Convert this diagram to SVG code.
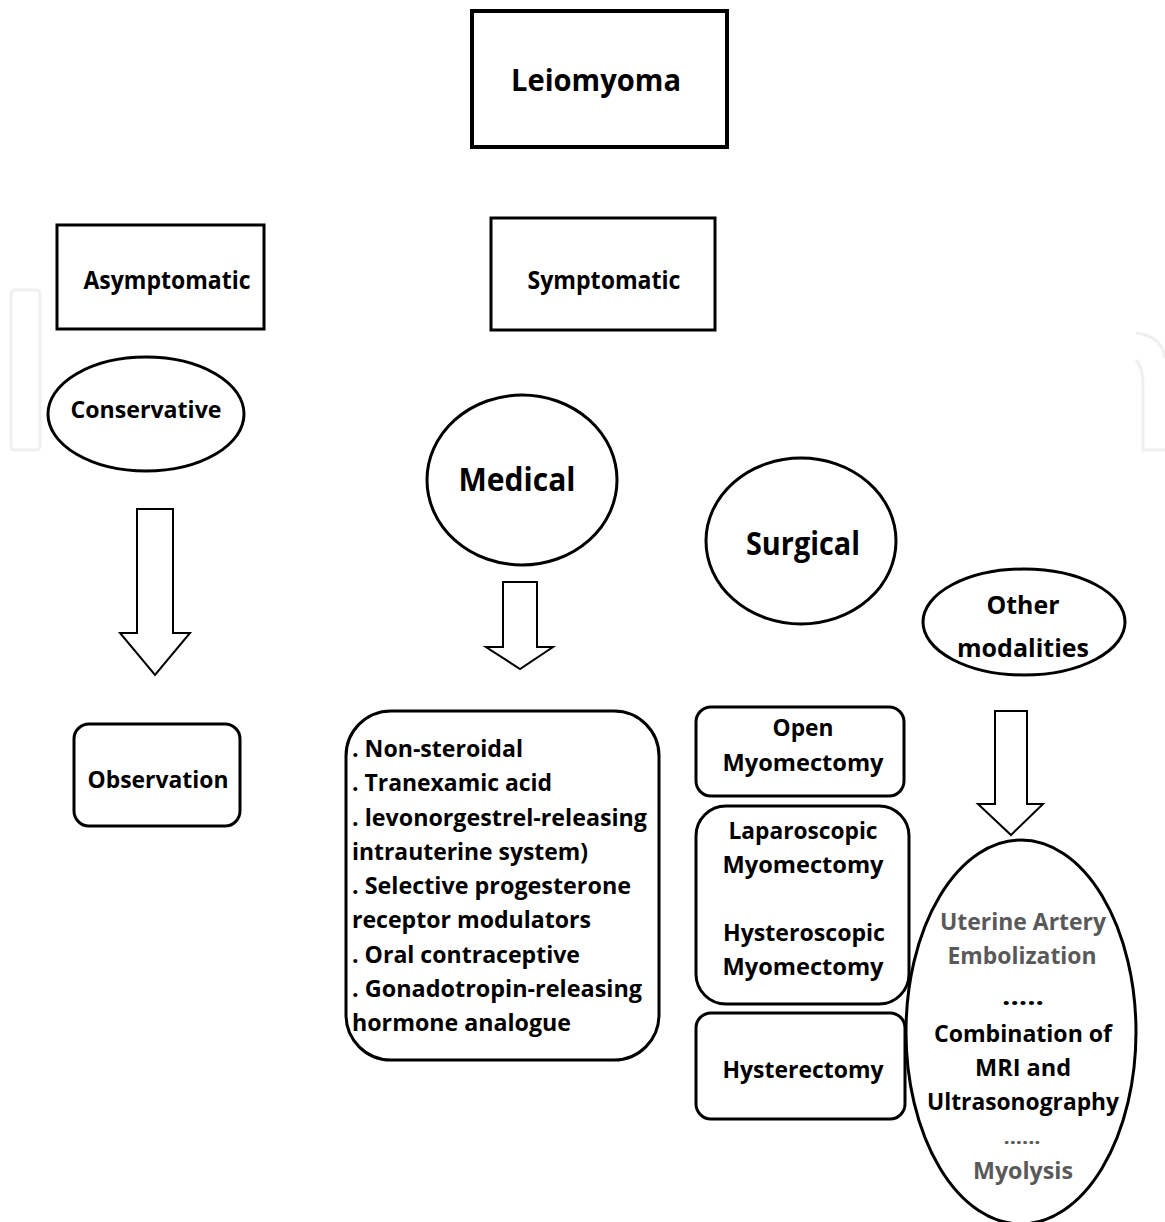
<svg xmlns="http://www.w3.org/2000/svg" width="1165" height="1222" viewBox="0 0 1165 1222">
<style>
.b{fill:#fff;stroke:#000;stroke-width:3}
.a{fill:#fff;stroke:#000;stroke-width:2;stroke-linejoin:miter}
text{font-family:"Open Sans","Liberation Sans",sans-serif;font-weight:bold;fill:#000}
.c{text-anchor:middle}
.g{fill:#595959}
.w{fill:none;stroke:#eef0f0;stroke-width:3}
</style>
<rect width="1165" height="1222" fill="#fff"/>
<g id="watermark">
<rect class="w" x="11" y="290" width="29" height="160" rx="4"/>
<path class="w" d="M1136,333 Q1162,336 1165,358 M1136,360 Q1143,368 1143,385 L1143,450 L1165,450"/>
</g>
<g id="leiomyoma">
<rect x="472" y="11" width="255" height="136" fill="#fff" stroke="#000" stroke-width="4"/>
<text class="c" x="596" y="91" font-size="31" textLength="170" lengthAdjust="spacingAndGlyphs">Leiomyoma</text>
</g>
<g id="asymptomatic">
<rect class="b" x="57" y="225" width="207" height="104"/>
<text class="c" x="167" y="289" font-size="25" textLength="167" lengthAdjust="spacingAndGlyphs">Asymptomatic</text>
</g>
<g id="symptomatic">
<rect class="b" x="491" y="218" width="224" height="112"/>
<text class="c" x="604" y="289" font-size="25" textLength="153" lengthAdjust="spacingAndGlyphs">Symptomatic</text>
</g>
<g id="conservative">
<ellipse class="b" cx="146" cy="414" rx="98" ry="57"/>
<text class="c" x="146" y="418" font-size="24" textLength="151" lengthAdjust="spacingAndGlyphs">Conservative</text>
</g>
<g id="medical">
<ellipse class="b" cx="522" cy="480" rx="95" ry="85"/>
<text class="c" x="517" y="491" font-size="33" textLength="117" lengthAdjust="spacingAndGlyphs">Medical</text>
</g>
<g id="surgical">
<ellipse class="b" cx="801" cy="541" rx="95" ry="83"/>
<text class="c" x="803" y="555" font-size="32" textLength="114" lengthAdjust="spacingAndGlyphs">Surgical</text>
</g>
<g id="other">
<ellipse class="b" cx="1024" cy="622" rx="101" ry="53"/>
<text class="c" x="1023" y="614" font-size="25" textLength="73" lengthAdjust="spacingAndGlyphs">Other</text>
<text class="c" x="1023" y="657" font-size="25" textLength="132" lengthAdjust="spacingAndGlyphs">modalities</text>
</g>
<g id="connectors">
<path class="a" d="M137,509 L173,509 L173,633 L190,633 L155,675 L120,633 L137,633 Z"/>
<path class="a" d="M503,582 L537,582 L537,647 L553,647 L520,669 L486,647 L503,647 Z"/>
<path class="a" d="M995,711 L1027,711 L1027,804 L1043,804 L1011,835 L978,804 L995,804 Z"/>
</g>
<g id="observation">
<rect class="b" x="74" y="724" width="166" height="102" rx="15"/>
<text class="c" x="158" y="788" font-size="23" textLength="141" lengthAdjust="spacingAndGlyphs">Observation</text>
</g>
<g id="medical-list">
<rect class="b" x="346" y="711" width="313" height="349" rx="45"/>
<text x="352" y="757" font-size="24" textLength="171" lengthAdjust="spacingAndGlyphs">. Non-steroidal</text>
<text x="352" y="791" font-size="24" textLength="200" lengthAdjust="spacingAndGlyphs">. Tranexamic acid</text>
<text x="352" y="826" font-size="24" textLength="295" lengthAdjust="spacingAndGlyphs">. levonorgestrel-releasing</text>
<text x="352" y="860" font-size="24" textLength="236" lengthAdjust="spacingAndGlyphs">intrauterine system)</text>
<text x="352" y="894" font-size="24" textLength="279" lengthAdjust="spacingAndGlyphs">. Selective progesterone</text>
<text x="352" y="928" font-size="24" textLength="239" lengthAdjust="spacingAndGlyphs">receptor modulators</text>
<text x="352" y="963" font-size="24" textLength="228" lengthAdjust="spacingAndGlyphs">. Oral contraceptive</text>
<text x="352" y="997" font-size="24" textLength="290" lengthAdjust="spacingAndGlyphs">. Gonadotropin-releasing</text>
<text x="352" y="1031" font-size="24" textLength="219" lengthAdjust="spacingAndGlyphs">hormone analogue</text>
</g>
<g id="open-myomectomy">
<rect class="b" x="696" y="707" width="208" height="89" rx="15"/>
<text class="c" x="803" y="736" font-size="24" textLength="61" lengthAdjust="spacingAndGlyphs">Open</text>
<text class="c" x="803" y="771" font-size="24" textLength="161" lengthAdjust="spacingAndGlyphs">Myomectomy</text>
</g>
<g id="lap-hys-myomectomy">
<rect class="b" x="696" y="806" width="213" height="198" rx="30"/>
<text class="c" x="803" y="839" font-size="24" textLength="149" lengthAdjust="spacingAndGlyphs">Laparoscopic</text>
<text class="c" x="803" y="873" font-size="24" textLength="161" lengthAdjust="spacingAndGlyphs">Myomectomy</text>
<text class="c" x="804" y="941" font-size="24" textLength="162" lengthAdjust="spacingAndGlyphs">Hysteroscopic</text>
<text class="c" x="803" y="975" font-size="24" textLength="161" lengthAdjust="spacingAndGlyphs">Myomectomy</text>
</g>
<g id="hysterectomy">
<rect class="b" x="696" y="1013" width="209" height="106" rx="15"/>
<text class="c" x="803" y="1078" font-size="24" textLength="161" lengthAdjust="spacingAndGlyphs">Hysterectomy</text>
</g>
<g id="other-list">
<ellipse class="b" cx="1021" cy="1032" rx="115" ry="192"/>
<text class="c g" x="1023" y="930" font-size="24" textLength="166" lengthAdjust="spacingAndGlyphs">Uterine Artery</text>
<text class="c g" x="1022" y="964" font-size="24" textLength="149" lengthAdjust="spacingAndGlyphs">Embolization</text>
<text class="c" x="1023" y="1005" font-size="24" textLength="42" lengthAdjust="spacingAndGlyphs">.....</text>
<text class="c" x="1023" y="1042" font-size="24" textLength="178" lengthAdjust="spacingAndGlyphs">Combination of</text>
<text class="c" x="1023" y="1076" font-size="24" textLength="96" lengthAdjust="spacingAndGlyphs">MRI and</text>
<text class="c" x="1023" y="1110" font-size="24" textLength="192" lengthAdjust="spacingAndGlyphs">Ultrasonography</text>
<text class="c g" x="1022" y="1144" font-size="18" textLength="37" lengthAdjust="spacingAndGlyphs">......</text>
<text class="c g" x="1023" y="1179" font-size="24" textLength="100" lengthAdjust="spacingAndGlyphs">Myolysis</text>
</g>
</svg>
